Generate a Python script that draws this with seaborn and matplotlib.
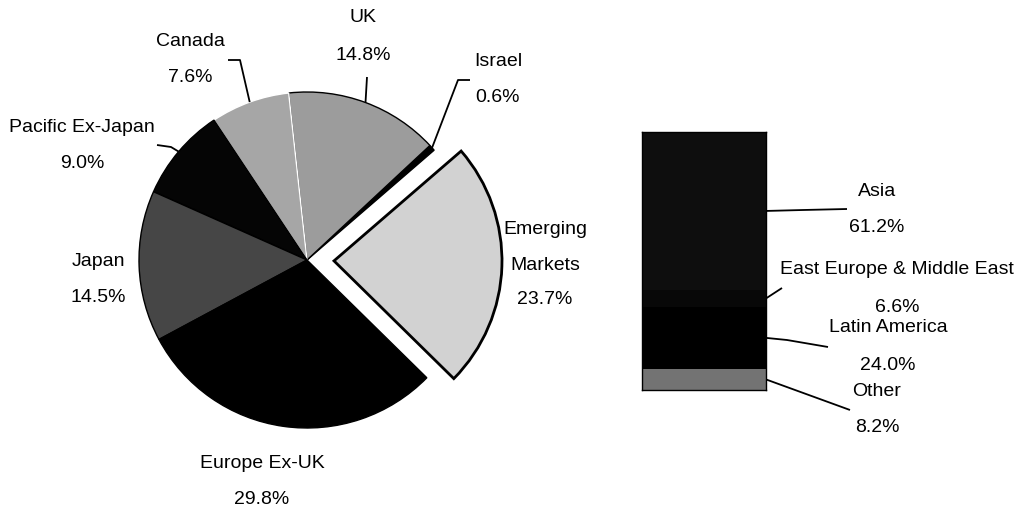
import numpy as np
import matplotlib
matplotlib.use("Agg")
import matplotlib.pyplot as plt
import seaborn as sns
import pandas as pd

# ---------------- data ----------------
pie_labels = ["Emerging\nMarkets", "Israel", "UK", "Canada", "Pacific Ex-Japan", "Japan", "Europe Ex-UK"]
pie_values = [23.7, 0.6, 14.8, 7.6, 9.0, 14.5, 29.8]
pie_colors = ["#d2d2d2", "#000000", "#9c9c9c", "#a6a6a6", "#050505", "#464646", "#000000"]

bar_labels = ["Other", "Latin America", "East Europe & Middle East", "Asia"]  # bottom -> top
bar_values = [8.2, 24.0, 6.6, 61.2]
bar_colors = ["#737373", "#000000", "#080808", "#0e0e0e"]

W, H = 1014, 507
sns.set_theme(style="white")
plt.rcParams["font.family"] = ["Liberation Sans", "DejaVu Sans"]
plt.rcParams["text.color"] = "black"
FS = 14

fig = plt.figure(figsize=(W / 100, H / 100), dpi=100)
ax = fig.add_axes([0, 0, 1, 1])

def Y(y):
    return H - y

# ---------------- pie ----------------
cx, cy, R = 307, Y(260), 168
explode = [27, 0, 0, 0, 0, 0, 0]   # offset in pixels (data units)
wedges, _ = ax.pie(pie_values, colors=pie_colors, startangle=-44.5, counterclock=True,
                   explode=explode, center=(cx, cy), radius=R,
                   wedgeprops=dict(edgecolor="black", linewidth=1.0))
wedges[0].set_linewidth(2.0)
wedges[3].set_edgecolor("white")
wedges[3].set_linewidth(1.0)
ax.set_xlim(0, W)
ax.set_ylim(0, H)
ax.set_aspect("equal")
ax.axis("off")

def wedge_anchor(i):
    w = wedges[i]
    a = np.deg2rad((w.theta1 + w.theta2) / 2)
    c = w.center
    return (c[0] + w.r * np.cos(a), c[1] + w.r * np.sin(a))

def label2(text_name, text_pct, x, y1, y2):
    ax.text(x, Y(y1), text_name, ha="center", va="center", fontsize=FS, color="black")
    ax.text(x, Y(y2), text_pct, ha="center", va="center", fontsize=FS, color="black")

def leader(anchor, pts):
    xs = [anchor[0]] + [p[0] for p in pts]
    ys = [anchor[1]] + [Y(p[1]) for p in pts]
    ax.plot(xs, ys, color="black", lw=1.3, solid_capstyle="butt")

# labels (layout positions)
label2("UK", "14.8%", 363, 18, 55)
leader(wedge_anchor(2), [(367, 77)])
label2("Canada", "7.6%", 190, 42, 78)
leader(wedge_anchor(3), [(240, 60), (228, 60)])
label2("Israel", "0.6%", 498, 62, 98)
leader(wedge_anchor(1), [(458, 80), (470, 80)])
label2("Pacific Ex-Japan", "9.0%", 82, 128, 163)
leader(wedge_anchor(4), [(171, 147), (157, 145)])
label2("Japan", "14.5%", 98, 262, 298)
ax.text(545, Y(230), "Emerging", ha="center", va="center", fontsize=FS, color="black")
ax.text(545, Y(265), "Markets", ha="center", va="center", fontsize=FS, color="black")
ax.text(545, Y(300), f"{pie_values[0]:.1f}%", ha="center", va="center", fontsize=FS, color="black")
label2("Europe Ex-UK", "29.8%", 262, 463, 500)

# ---------------- stacked bar ----------------
bx0, bx1, by0, by1 = 642, 766, 132, 390
bax = fig.add_axes([bx0 / W, (H - by1) / H, (bx1 - bx0) / W, (by1 - by0) / H])
bottom = 0.0
mids = []
for lab, val, col in zip(bar_labels, bar_values, bar_colors):
    df = pd.DataFrame({"cat": ["EM"], "val": [val]})
    sns.barplot(data=df, x="cat", y="val", color=col, bottom=bottom, width=1.0,
                errorbar=None, saturation=1, edgecolor=col, linewidth=0, ax=bax)
    mids.append(bottom + val / 2)
    bottom += val
bax.set_xlim(-0.5, 0.5)
bax.set_ylim(0, sum(bar_values))
bax.set_xticks([]); bax.set_yticks([])
bax.set_xlabel(""); bax.set_ylabel("")
for s in bax.spines.values():
    s.set_visible(True); s.set_color("black"); s.set_linewidth(1.0)

def bar_anchor(k):
    disp = bax.transData.transform((0.5, mids[k]))
    return ax.transData.inverted().transform(disp)

# bar labels
label2("Asia", "61.2%", 877, 192, 228)
leader(bar_anchor(3), [(803, 210), (847, 209)])
label2("East Europe & Middle East", "6.6%", 897, 270, 307)
leader(bar_anchor(2), [(782, 288)])
label2("Latin America", "24.0%", 888, 328, 365)
leader(bar_anchor(1), [(787, 340), (828, 347)])
label2("Other", "8.2%", 877, 392, 427)
leader(bar_anchor(0), [(850, 410)])

fig.savefig("out.png", dpi=100)
